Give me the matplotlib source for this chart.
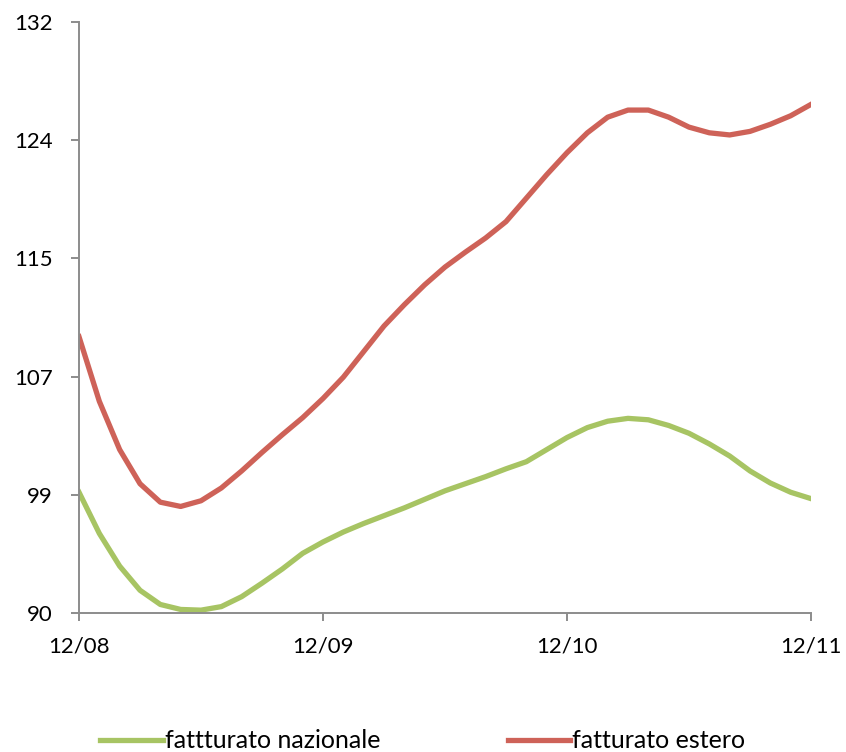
import matplotlib
matplotlib.use("Agg")
import matplotlib.pyplot as plt

# Monthly index, Dec 2008 .. Dec 2011
months = list(range(37))
tick_positions = [0, 12, 24, 36]
tick_labels = ["12/08", "12/09", "12/10", "12/11"]

fatturato_nazionale = [
    98.9, 96.0, 93.7, 92.0, 91.0, 90.65, 90.6, 90.85, 91.55, 92.5,
    93.5, 94.6, 95.4, 96.1, 96.7, 97.25, 97.8, 98.4, 99.0, 99.5,
    100.0, 100.55, 101.05, 101.9, 102.75, 103.45, 103.9, 104.1, 104.0, 103.6,
    103.05, 102.3, 101.45, 100.4, 99.55, 98.9, 98.45,
]
fatturato_estero = [
    109.85, 105.3, 101.9, 99.5, 98.2, 97.9, 98.3, 99.2, 100.4, 101.7,
    102.95, 104.15, 105.5, 107.0, 108.8, 110.6, 112.1, 113.5, 114.75, 115.8,
    116.8, 117.95, 119.6, 121.25, 122.8, 124.2, 125.3, 125.8, 125.8, 125.3,
    124.6, 124.2, 124.05, 124.3, 124.8, 125.4, 126.2,
]

y_min, y_max = 90.4, 132.0
y_ticks = [90.4, 98.72, 107.04, 115.36, 123.68, 132.0]
y_labels = ["90", "99", "107", "115", "124", "132"]

plt.rcParams["font.family"] = ["Lato", "DejaVu Sans"]

fig = plt.figure(figsize=(8.46, 7.52), dpi=100)
ax = fig.add_axes([79 / 846, 1 - 613 / 752, (811 - 79) / 846, (613 - 22) / 752])

green = "#A7C463"
red = "#CE6258"
ax.plot(months, fatturato_nazionale, color=green, lw=3.8,
        label="fattturato nazionale", solid_joinstyle="round")
ax.plot(months, fatturato_estero, color=red, lw=3.8,
        label="fatturato estero", solid_joinstyle="round")

ax.set_xlim(0, 36)
ax.set_ylim(y_min, y_max)
ax.set_xticks(tick_positions)
ax.set_xticklabels(tick_labels)
ax.set_yticks(y_ticks)
ax.set_yticklabels(y_labels)

axis_color = "#8C8C8C"
for side in ["top", "right"]:
    ax.spines[side].set_visible(False)
for side in ["left", "bottom"]:
    ax.spines[side].set_color(axis_color)
    ax.spines[side].set_linewidth(1.4)
ax.tick_params(axis="both", colors=axis_color, length=6, width=1.4,
               labelcolor="black", labelsize=16)
ax.tick_params(axis="y", pad=13)
ax.tick_params(axis="x", pad=11)
for lbl in ax.get_xticklabels() + ax.get_yticklabels():
    lbl.set_clip_on(False)

fig.legend(loc="center", bbox_to_anchor=(423 / 846, 1 - 741 / 752), ncol=2,
           frameon=False, fontsize=18, handlelength=2.5,
           handletextpad=0.08, columnspacing=5.1)

fig.savefig("out.png", dpi=100, facecolor="white")
